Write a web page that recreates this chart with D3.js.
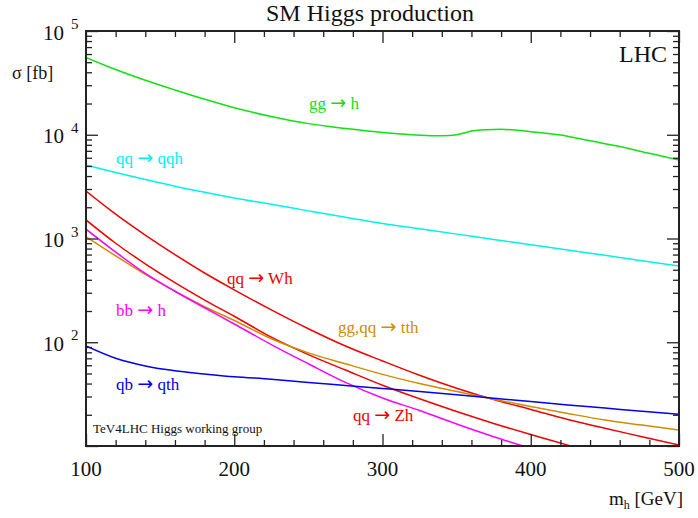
<!DOCTYPE html>
<html><head><meta charset="utf-8">
<script src="https://cdn.jsdelivr.net/npm/d3@7/dist/d3.min.js"></script>
<style>body{margin:0;background:#fff}svg{display:block}text{font-family:"Liberation Serif","DejaVu Serif",serif}</style>
</head><body><svg id="c" width="698" height="518"></svg>
<script>
// ---- data (m_h in GeV, sigma in fb) ----
const mh = [100,120,140,160,180,200,225,250,275,300,325,350,375,400,425,450,475,500];
const mhGG = [100,120,140,160,180,200,225,250,275,300,320,335,345,350,355,360,370,380,400,420,440,460,480,500];
const ggh  = [55700,42500,33500,27000,22000,18200,15000,12800,11500,10500,10000,9800,9850,10000,10400,10850,11200,11300,10700,9950,8750,7700,6620,5700];
const qqh  = [5110,4330,3700,3190,2790,2460,2135,1846,1600,1395,1240,1102,980,871,774,688,611,543];
const wh   = [2870,1720,1080,700,465,320,205,135,92,66,48,36,28,22.5,18,14.8,12.3,10.2];
const zh   = [1510,900,570,375,255,178,112,76,54,38.5,28.5,21.5,16.5,12.9,10.2,8.2,6.6,5.3];
const tth  = [1040,680,450,310,220,162,108,79,62,49,40,33.5,28.2,24,20.6,17.8,15.9,14.3];
const bbh  = [1230,740,460,310,215,150,95,62,41,29,22,16.3,12.3,9.5,7.4,5.8,4.6,3.7];
const qth  = [92,70,59,53,49.5,46.5,44,41,38.3,35.8,33.5,31.2,28.8,26.8,24.9,23.2,21.6,20.2];
// labels: [before arrow, after arrow]
const seriesNames = [["gg","h"],["qq","qqh"],["qq","Wh"],["qq","Zh"],["gg,qq","tth"],["bb","h"],["qb","qth"]];
const xTicks = [100,200,300,400,500];
const yExps = [2,3,4,5];

// ---- layout ----
const L=86,R=679,T=31,B=446;
const svg=d3.select("#c");
const x=d3.scaleLinear().domain([100,500]).range([L,R]);
const y=d3.scaleLog().domain([10,1e5]).range([B,T]);

svg.append("defs").append("clipPath").attr("id","clip")
  .append("rect").attr("x",L).attr("y",T).attr("width",R-L).attr("height",B-T);

const colors=["#11e011","#00f0f0","#f00000","#f00000","#d08c00","#ff00ff","#0000f0"];
const series=[
  {m:mhGG,v:ggh},{m:mh,v:qqh},{m:mh,v:wh},{m:mh,v:zh},{m:mh,v:tth},{m:mh,v:bbh},{m:mh,v:qth}
];
const line=d3.line().x(d=>x(d[0])).y(d=>y(d[1])).curve(d3.curveMonotoneX);
const g=svg.append("g").attr("clip-path","url(#clip)");
series.forEach((s,i)=>{
  g.append("path").datum(s.m.map((m,j)=>[m,s.v[j]]))
   .attr("d",line).attr("fill","none").attr("stroke",colors[i]).attr("stroke-width",1.5);
});

// ---- ticks ----
const xMinor=d3.range(100,501,20).filter(v=>v%100!==0);
const yMinor=[];
for(let e=1;e<5;e++)for(let k=2;k<=9;k++)yMinor.push(k*Math.pow(10,e));
const yMajor=[10,100,1000,10000,100000];
const tickStyle=sel=>{sel.select(".domain").remove();sel.selectAll("line").attr("stroke","#222").attr("stroke-width",1.3);sel.selectAll("text").remove();};
svg.append("g").attr("transform",`translate(0,${B})`).call(d3.axisBottom(x).tickValues(xTicks).tickSize(-12)).call(tickStyle);
svg.append("g").attr("transform",`translate(0,${B})`).call(d3.axisBottom(x).tickValues(xMinor).tickSize(-6)).call(tickStyle);
svg.append("g").attr("transform",`translate(0,${T})`).call(d3.axisTop(x).tickValues(xTicks).tickSize(-12)).call(tickStyle);
svg.append("g").attr("transform",`translate(0,${T})`).call(d3.axisTop(x).tickValues(xMinor).tickSize(-6)).call(tickStyle);
svg.append("g").attr("transform",`translate(${L},0)`).call(d3.axisLeft(y).tickValues(yMajor).tickSize(-12)).call(tickStyle);
svg.append("g").attr("transform",`translate(${L},0)`).call(d3.axisLeft(y).tickValues(yMinor).tickSize(-6)).call(tickStyle);
svg.append("g").attr("transform",`translate(${R},0)`).call(d3.axisRight(y).tickValues(yMajor).tickSize(-12)).call(tickStyle);
svg.append("g").attr("transform",`translate(${R},0)`).call(d3.axisRight(y).tickValues(yMinor).tickSize(-6)).call(tickStyle);

svg.append("rect").attr("x",L).attr("y",T).attr("width",R-L).attr("height",B-T)
  .attr("fill","none").attr("stroke","#222").attr("stroke-width",2);

// ---- tick labels ----
xTicks.forEach(v=>{
  svg.append("text").attr("x",x(v)).attr("y",476).attr("text-anchor","middle")
    .attr("font-size",21).attr("fill","#111").text(v);
});
yExps.forEach(e=>{
  const yy=y(Math.pow(10,e));
  svg.append("text").attr("x",64).attr("y",yy+8.7).attr("text-anchor","end")
    .attr("font-size",21).attr("fill","#111").text("10");
  svg.append("text").attr("x",71).attr("y",yy-2).attr("font-size",15).attr("fill","#111").text(e);
});

// ---- titles ----
svg.append("text").attr("x",370).attr("y",21).attr("text-anchor","middle").attr("font-size",24).attr("fill","#111").text("SM Higgs production");
svg.append("text").attr("x",12).attr("y",79).attr("font-size",18).attr("fill","#111").text("\u03c3 [fb]");
const xl=svg.append("text").attr("x",683).attr("y",505).attr("text-anchor","end").attr("font-size",19).attr("fill","#111");
xl.append("tspan").text("m");
xl.append("tspan").attr("font-size",12).attr("dy",4).text("h");
xl.append("tspan").attr("dy",-4).text(" [GeV]");
svg.append("text").attr("x",667).attr("y",62).attr("text-anchor","end").attr("font-size",24).attr("fill","#111").text("LHC");
svg.append("text").attr("x",93).attr("y",433).attr("font-size",13).attr("fill","#111").text("TeV4LHC Higgs working group");

// ---- series labels ----
const labelPos=[[309,109],[116,164],[227,284],[353,421],[338,333],[116,316],[116,390]];
seriesNames.forEach((n,i)=>{
  const t=svg.append("text").attr("x",labelPos[i][0]).attr("y",labelPos[i][1]).attr("font-size",17)
    .attr("fill",colors[i]);
  t.append("tspan").text(n[0]+" ");
  t.append("tspan").attr("font-family","DejaVu Sans").attr("font-size",19).attr("dy",-0.5).text("\u2192");
  t.append("tspan").attr("dy",0.5).text(" "+n[1]);
});
</script></body></html>
